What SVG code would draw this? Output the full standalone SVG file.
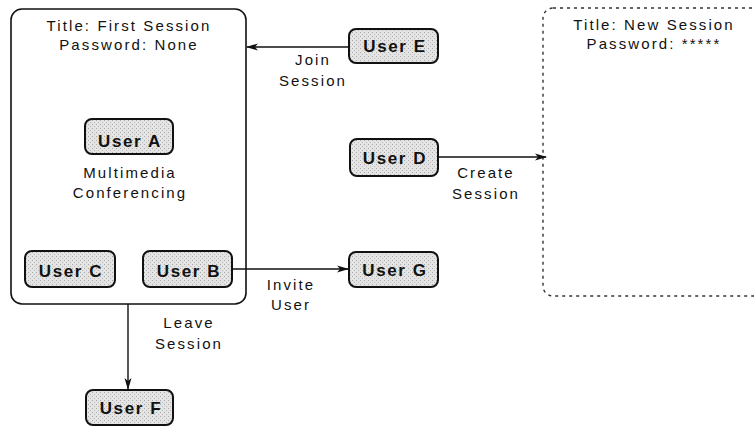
<svg xmlns="http://www.w3.org/2000/svg" width="754" height="435" viewBox="0 0 754 435">
<defs>
<marker id="arr" markerWidth="12" markerHeight="8" refX="11" refY="4" orient="auto" markerUnits="userSpaceOnUse">
<path d="M0,0.5 L12,4 L0,7.5 L3,4 Z" fill="#111"/>
</marker>
<pattern id="stip" width="4" height="4" patternUnits="userSpaceOnUse">
<rect width="4" height="4" fill="#e4e4e4"/>
<rect x="0" y="0" width="1" height="1" fill="#aaa"/>
<rect x="2" y="2" width="1" height="1" fill="#bbb"/>
</pattern>
</defs>
<style>
.session{fill:#fff;stroke:#111;stroke-width:1.6}
.newsession{fill:#fff;stroke:#333;stroke-width:1.4;stroke-dasharray:3 4}
.user{fill:url(#stip);stroke:#111;stroke-width:2}
.ut{font-family:"Liberation Sans",Arial,sans-serif;font-size:17px;font-weight:bold;fill:#111;text-anchor:middle;letter-spacing:1.6px}
.t{font-family:"Liberation Sans",Arial,sans-serif;font-size:15px;fill:#111;text-anchor:middle;letter-spacing:2.1px}
.conn{stroke:#111;stroke-width:1.4;fill:none;marker-end:url(#arr)}
</style>
<rect width="754" height="435" fill="#fff"/>
<g id="first-session">
<rect class="session" x="11" y="9" width="235" height="295" rx="11"/>
<text class="t" x="129" y="31">Title: First Session</text>
<text class="t" x="129" y="50">Password: None</text>
<text class="t" x="130" y="178">Multimedia</text>
<text class="t" x="130" y="198">Conferencing</text>
</g>
<g id="new-session">
<rect class="newsession" x="543" y="8" width="230" height="288" rx="10"/>
<text class="t" x="654" y="30">Title: New Session</text>
<text class="t" x="654" y="49">Password: *****</text>
</g>
<g id="userA"><rect class="user" x="85" y="119" width="88" height="35" rx="7"/><text class="ut" x="130" y="147">User A</text></g>
<g id="userC"><rect class="user" x="25" y="251" width="90" height="36" rx="7"/><text class="ut" x="71" y="277">User C</text></g>
<g id="userB"><rect class="user" x="143" y="251" width="89" height="36" rx="7"/><text class="ut" x="189" y="277">User B</text></g>
<g id="userE"><rect class="user" x="349" y="29" width="89" height="34" rx="7"/><text class="ut" x="395" y="52">User E</text></g>
<g id="userD"><rect class="user" x="350" y="139" width="88" height="37" rx="7"/><text class="ut" x="395" y="164">User D</text></g>
<g id="userG"><rect class="user" x="349" y="252" width="89" height="35" rx="7"/><text class="ut" x="395" y="276">User G</text></g>
<g id="userF"><rect class="user" x="86" y="390" width="87" height="35" rx="7"/><text class="ut" x="131" y="414">User F</text></g>
<g id="connectors">
<line class="conn" x1="349" y1="47" x2="247" y2="47"/>
<text class="t" x="313" y="65">Join</text>
<text class="t" x="313" y="86">Session</text>
<line class="conn" x1="438" y1="157" x2="546" y2="157"/>
<text class="t" x="486" y="178">Create</text>
<text class="t" x="486" y="199">Session</text>
<line class="conn" x1="232" y1="269" x2="348" y2="269"/>
<text class="t" x="291" y="290">Invite</text>
<text class="t" x="291" y="310">User</text>
<line class="conn" x1="128" y1="304" x2="128" y2="389"/>
<text class="t" x="189" y="328">Leave</text>
<text class="t" x="189" y="349">Session</text>
</g>
</svg>
